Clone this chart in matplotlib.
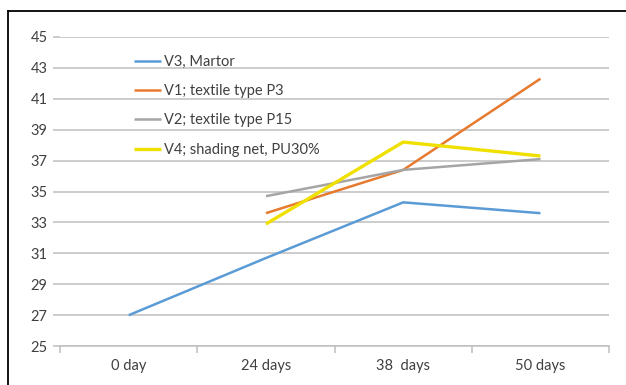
import matplotlib.pyplot as plt
from matplotlib.lines import Line2D

plt.rcParams['font.family'] = ['Lato', 'DejaVu Sans']

days = ["0 day", "24 days", "38  days", "50 days"]
v3_martor = [27.0, 30.7, 34.3, 33.6]
v1_p3 = [None, 33.6, 36.4, 42.3]
v2_p15 = [None, 34.7, 36.4, 37.1]
v4_net = [None, 32.9, 38.2, 37.3]

series = [
    ("V3, Martor", v3_martor, "#5B9BD5", 1.8),
    ("V1; textile type P3", v1_p3, "#E67A2E", 1.8),
    ("V2; textile type P15", v2_p15, "#A5A5A5", 1.8),
    ("V4; shading net, PU30%", v4_net, "#F0E000", 2.4),
]

fig = plt.figure(figsize=(6.26, 3.85), dpi=100)
ax = fig.add_axes([0.096, 0.101, 0.877, 0.803])

x = list(range(len(days)))
for label, vals, color, lw in series:
    xs = [i for i, v in zip(x, vals) if v is not None]
    ys = [v for v in vals if v is not None]
    ax.plot(xs, ys, color=color, lw=lw, label=label, solid_capstyle='butt')

ax.set_xlim(-0.5, 3.5)
ax.set_ylim(25, 45)
ax.set_yticks(range(25, 46, 2))
ax.set_xticks(x)
ax.set_xticklabels(days)
ax.set_xticks([i - 0.5 for i in range(len(days) + 1)], minor=True)

ax.grid(axis='y', color='#BFBFBF', lw=1.1)
ax.set_axisbelow(True)
for s in ['top', 'right', 'left']:
    ax.spines[s].set_visible(False)
ax.spines['bottom'].set_color('#BFBFBF')
ax.spines['bottom'].set_linewidth(1.1)

ax.tick_params(axis='y', length=5, width=1.1, color='#BFBFBF', labelsize=10.5,
               labelcolor='#404040', pad=4)
ax.tick_params(axis='x', which='major', length=0, labelsize=10.5,
               labelcolor='#404040', pad=9)
ax.tick_params(axis='x', which='minor', length=5, width=1.1, color='#BFBFBF')

ax.legend(loc='upper left', bbox_to_anchor=(0.11, 0.985), frameon=False,
          fontsize=10.5, handlelength=1.9, handletextpad=0.15, labelspacing=1.05,
          labelcolor='#404040')

# black border around the figure
fig.add_artist(Line2D([8 / 626, 1.0], [1 - 11 / 385, 1 - 11 / 385],
                      transform=fig.transFigure, color='black', lw=1.3))
fig.add_artist(Line2D([8 / 626, 8 / 626], [0, 1 - 11 / 385],
                      transform=fig.transFigure, color='black', lw=1.3))

fig.savefig("out.png", dpi=100)
